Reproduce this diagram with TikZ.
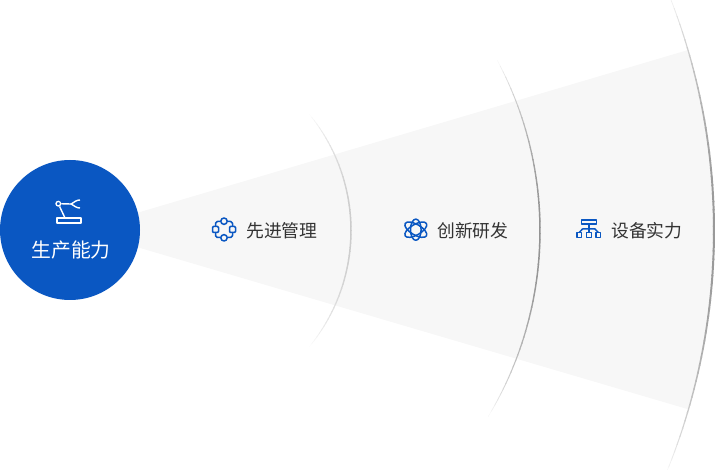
\documentclass[tikz,border=0pt]{standalone}
\usepackage{fontspec}
\newfontfamily\cjk{Noto Sans CJK SC}
\definecolor{brandblue}{HTML}{0A57C2}
\definecolor{wedgegrey}{HTML}{F7F7F7}
\definecolor{labelgrey}{HTML}{333333}
\tikzset{
  label text/.style={font=\cjk\fontsize{17.8}{20}\selectfont, text=labelgrey, inner sep=0pt},
  icon line/.style={draw=brandblue, line width=1.5pt, line join=round},
  robot line/.style={draw=white, line width=1.4pt, line join=round},
}
% fading arc: centre x, radius, top angle, bottom angle, peak darkness, peak width
\newcommand{\fadearc}[6]{%
  \foreach \i in {0,...,59}{%
    \pgfmathsetmacro{\tA}{(\i)/60}%
    \pgfmathsetmacro{\tm}{(\i+0.5)/60}%
    \pgfmathsetmacro{\angA}{#3+(#4-#3)*\tA}%
    \pgfmathsetmacro{\angB}{\angA+(#4-#3)/60*1.15}%
    \pgfmathsetmacro{\int}{pow(sin(180*\tm),0.75)}%
    \pgfmathsetmacro{\shade}{#5*\int}%
    \pgfmathsetmacro{\wd}{0.5+(#6-0.5)*\int}%
    \draw[black!\shade!white, line width=\wd pt]
      ({#1+#2*cos(\angA)},{238.5+#2*sin(\angA)}) arc[start angle=\angA, end angle=\angB, radius=#2 pt];
  }%
}
\begin{document}
\begin{tikzpicture}[x=1pt,y=1pt]
\useasboundingbox (0,0) rectangle (715,469);
% wedge
\fill[wedgegrey] (135,255.5) -- (688,419) arc[start angle=16.3, end angle=-16.3, radius=640pt] -- (135,222.5) -- cycle;
% arcs
\fadearc{168}{183}{39.6}{-39.4}{20}{1.5}
\fadearc{180}{360}{28.2}{-31}{42}{1.5}
\fadearc{74}{640}{21.8}{-22.4}{40}{2}
% main circle
\node[circle, fill=brandblue, minimum size=140pt, inner sep=0pt] (core) at (70,239) {};
\node[font=\cjk\fontsize{19.8}{22}\selectfont, text=white, inner sep=0pt] (coreLabel) at (71,219) {生产能力};
% robot icon
\draw[robot line] (57,246) rectangle (81,251);
\node[circle, draw=white, line width=1.3pt, minimum size=4.6pt, inner sep=0pt] (joint) at (58.3,265.3) {};
\coordinate (armBase) at (65,251);
\coordinate (wrist) at (71,265);
\draw[robot line] (joint) -- (armBase);
\draw[robot line] (joint) -- (wrist);
\draw[robot line] (80,269) .. controls (76,269) and (75,267) .. (wrist) .. controls (75,263) and (76,261) .. (80,261);
% labels
\node[label text, anchor=west] (lblA) at (246,238.3) {先进管理};
\node[label text, anchor=west] (lblB) at (437,238.3) {创新研发};
\node[label text, anchor=west] (lblC) at (611,238.3) {设备实力};
% icon A
\begin{scope}[shift={(224,239.5)}]
\draw[icon line, rounded corners=1.8pt] (-3,8) -- (-8.5,8) -- (-8.5,3);
\draw[icon line, rounded corners=1.8pt] (3,8) -- (8.5,8) -- (8.5,3);
\draw[icon line, rounded corners=1.8pt] (-3,-8) -- (-8.5,-8) -- (-8.5,-3);
\draw[icon line, rounded corners=1.8pt] (3,-8) -- (8.5,-8) -- (8.5,-3);
\draw[icon line, fill=wedgegrey] (0,8.3) circle (3.2);
\draw[icon line, fill=wedgegrey] (0,-8.3) circle (3.2);
\draw[icon line, fill=wedgegrey, rounded corners=1pt] (-11.5,-3) rectangle (-5.5,3);
\draw[icon line, fill=wedgegrey, rounded corners=1pt] (5.5,-3) rectangle (11.5,3);
\end{scope}
% icon B
\begin{scope}[shift={(415.8,239.3)}]
\draw[icon line] (0,0) ellipse [x radius=5.3pt, y radius=10.6pt];
\draw[icon line, rotate=60] (0,0) ellipse [x radius=5.3pt, y radius=12.3pt];
\draw[icon line, rotate=-60] (0,0) ellipse [x radius=5.3pt, y radius=12.3pt];
\end{scope}
% icon C
\draw[icon line] (581.3,244.8) rectangle (596.7,249);
\draw[icon line] (589,244.8) -- (589,240);
\draw[icon line] (579.2,236.5) -- (582.5,240) -- (595,240) -- (598.2,236.5);
\draw[icon line] (589,240) -- (589,236.5);
\draw[icon line] (577,231.6) rectangle (581.5,236.5);
\draw[icon line] (586.5,231.6) rectangle (591.5,236.5);
\draw[icon line] (596,231.6) rectangle (600.5,236.5);
\end{tikzpicture}
\end{document}
